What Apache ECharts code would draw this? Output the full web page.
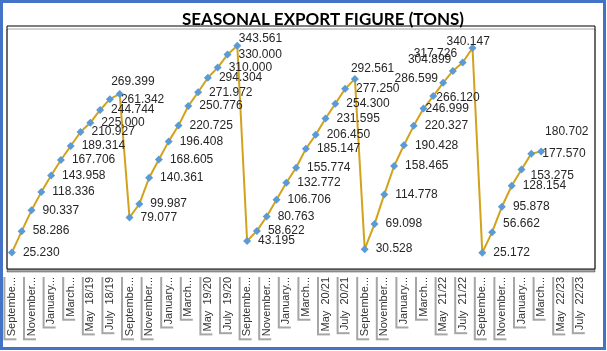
<!DOCTYPE html>
<html>
<head>
<meta charset="utf-8">
<script src="https://cdn.jsdelivr.net/npm/echarts@6/dist/echarts.min.js"></script>
<style>
  html, body { margin: 0; padding: 0; background: #fff; }
  #chart { width: 607px; height: 351px; }
</style>
</head>
<body>
<div id="chart"></div>
<script>
// seasons run September -> August
const seasons = ["18/19", "19/20", "20/21", "21/22", "22/23"];
const months = ["September", "October", "November", "December", "January", "February",
  "March", "April", "May", "June", "July", "August"];
// what Excel shows under the axis (every other month, long names cut off)
const tickMonthText = ["Septembe...", "", "November...", "", "January...", "", "March...", "",
  "May", "", "July", ""];

const tons1819 = [25.230, 58.286, 90.337, 118.336, 143.958, 167.706, 189.314, 210.927, 225.000, 244.744, 261.342, 269.399];
const tons1920 = [79.077, 99.987, 140.361, 168.605, 196.408, 220.725, 250.776, 271.972, 294.304, 310.000, 330.000, 343.561];
const tons2021 = [43.195, 58.622, 80.763, 106.706, 132.772, 155.774, 185.147, 206.450, 231.595, 254.300, 277.250, 292.561];
const tons2122 = [30.528, 69.098, 114.778, 158.465, 190.428, 220.327, 246.999, 266.120, 286.599, 304.899, 317.726, 340.147];
const tons2223 = [25.172, 56.662, 95.878, 128.154, 153.275, 177.570, 180.702];

const categories = seasons.flatMap(s => months.map(m => m + " " + s));
const tons = [].concat(tons1819, tons1920, tons2021, tons2122, tons2223);

// labels that were dragged around by hand in the original
const labelNudge = {
  11: [-19.5, -12], 23: [-9.5, -7], 35: [-15, -10],
  42: [-9, 0], 43: [-8, 2], 44: [-59.5, -4], 45: [-56, -11], 46: [-60, -9], 47: [-37, -6],
  49: [0, -8], 52: [-2, 6], 54: [-7, -20]
};

const chart = echarts.init(document.getElementById("chart"));

const option = {
  animation: false,
  backgroundColor: "#fff",
  title: {
    text: "SEASONAL EXPORT FIGURE (TONS)",
    left: 318,
    textAlign: "center",
    top: 6,
    textStyle: { fontFamily: "Lato", fontWeight: "bold", fontSize: 17, color: "#000" }
  },
  grid: {
    left: 7, right: 12, top: 26, bottom: 82,
    show: true,
    backgroundColor: "#fff",
    borderColor: "#000",
    borderWidth: 1,
    shadowColor: "rgba(0,0,0,0.35)",
    shadowOffsetY: 3
  },
  xAxis: {
    type: "category",
    data: categories,
    boundaryGap: true,
    axisLine: { show: false },
    axisTick: { show: false },
    axisLabel: {
      interval: 1,
      rotate: 90,
      margin: 6,
      fontFamily: "Liberation Sans",
      fontSize: 11,
      color: "#333",
      backgroundColor: "#fff",
      padding: [1, 2, 1, 2],
      shadowColor: "#a6a6a6",
      shadowOffsetX: -2,
      shadowOffsetY: 2,
      formatter: (value, index) => {
        const m = index % 12;
        const t = tickMonthText[m];
        if (m === 8 || m === 10) return t + "  " + seasons[Math.floor(index / 12)];
        return t;
      }
    }
  },
  yAxis: {
    type: "value",
    min: 0,
    max: 374,
    show: false,
    splitLine: { show: false }
  },
  series: [{
    type: "line",
    smooth: false,
    showAllSymbol: true,
    data: tons,
    symbol: "diamond",
    symbolSize: 8,
    itemStyle: { color: "#5B9BD5" },
    lineStyle: { color: "#D2A21C", width: 2 },
    labelLayout: p => {
      const n = labelNudge[p.dataIndex] || [0, 0];
      return { dx: n[0], dy: n[1], hideOverlap: false };
    },
    label: {
      show: true,
      position: "right",
      distance: 7,
      fontFamily: "Liberation Sans",
      fontSize: 12,
      color: "#262626",
      formatter: p => p.value.toFixed(3)
    }
  }],
  graphic: [{
    type: "rect",
    shape: { x: 1.5, y: 1.5, width: 603, height: 347 },
    style: { fill: "none", stroke: "#4472C4", lineWidth: 3 },
    silent: true,
    z: 100
  }]
};

chart.setOption(option);
window.addEventListener("resize", () => chart.resize());
</script>
</body>
</html>
